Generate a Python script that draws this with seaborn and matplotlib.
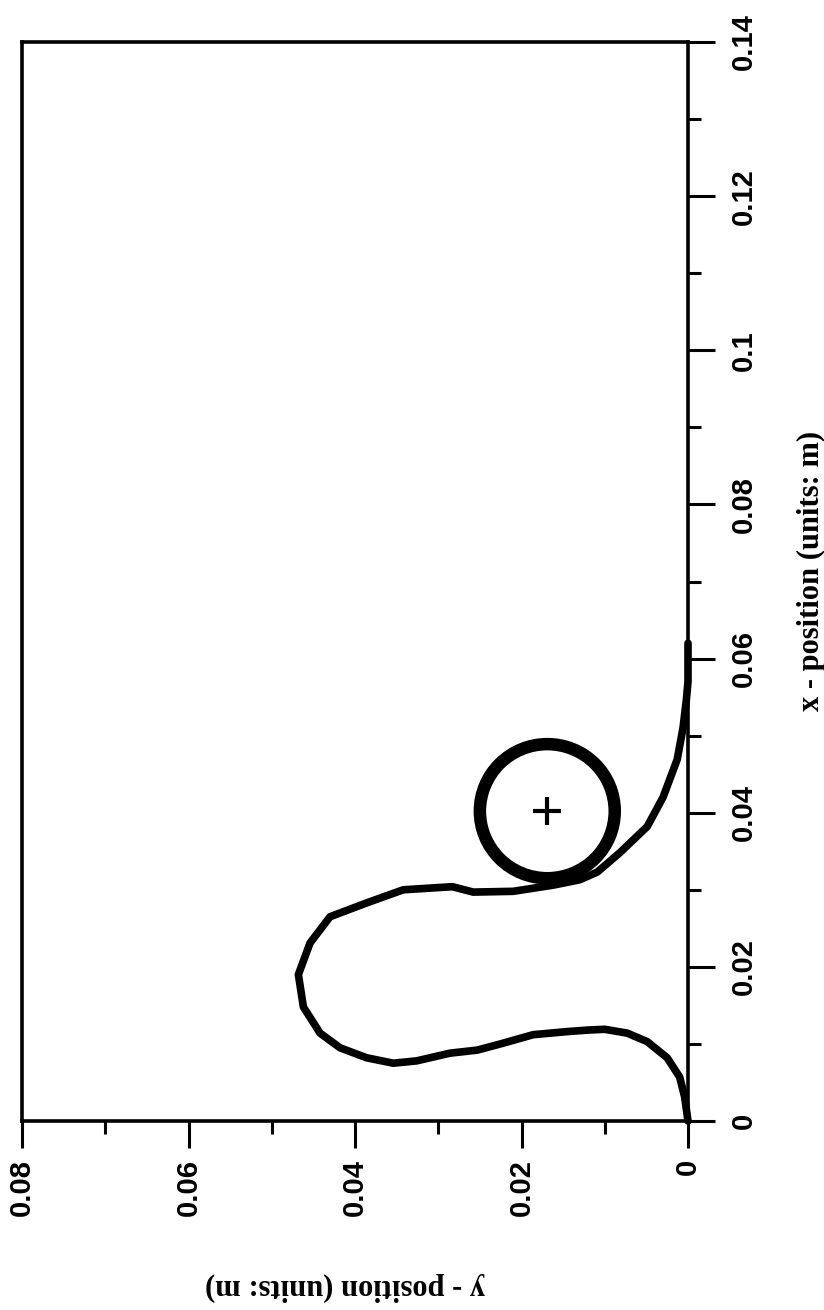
import numpy as np
import pandas as pd
import matplotlib
matplotlib.use("Agg")
import matplotlib.pyplot as plt
from matplotlib.patches import Ellipse
from matplotlib.ticker import FixedLocator, MultipleLocator
import seaborn as sns

# ---- data (physical orientation: x horizontal, y vertical) ----
x_position = [0.0000, 0.0031, 0.0057, 0.0082, 0.0103, 0.0114, 0.0119, 0.0118,
              0.0116, 0.0112, 0.0101, 0.0092, 0.0088, 0.0078, 0.0075, 0.0082,
              0.0095, 0.0114, 0.0148, 0.0190, 0.0231, 0.0265, 0.0283, 0.0300,
              0.0304, 0.0297, 0.0298, 0.0306, 0.0313, 0.0323, 0.0348, 0.0382,
              0.0420, 0.0469, 0.0510, 0.0546, 0.0570, 0.0620]
y_position = [0.0000, 0.0004, 0.0010, 0.0025, 0.0049, 0.0073, 0.0100, 0.0120,
              0.0145, 0.0186, 0.0222, 0.0253, 0.0286, 0.0326, 0.0354, 0.0386,
              0.0418, 0.0442, 0.0462, 0.0468, 0.0454, 0.0430, 0.0386, 0.0342,
              0.0283, 0.0258, 0.0210, 0.0162, 0.0130, 0.0109, 0.0082, 0.0049,
              0.0030, 0.0013, 0.0006, 0.0002, 0.0000, 0.0000]

ball_center_x = 0.0402
ball_center_y = 0.0169
ball_radius_x = 0.0087
ball_radius_y = 0.0081

x_ticks = [0, 0.02, 0.04, 0.06, 0.08, 0.1, 0.12, 0.14]
x_tick_labels = ["0", "0.02", "0.04", "0.06", "0.08", "0.1", "0.12", "0.14"]
y_ticks = [0, 0.02, 0.04, 0.06, 0.08]
y_tick_labels = ["0", "0.02", "0.04", "0.06", "0.08"]
x_label = "x - position (units: m)"
y_label = "y - position (units: m)"

sns.set_theme(style="white")
plt.rcParams['font.family'] = ['Liberation Sans', 'DejaVu Sans']
plt.rcParams['axes.edgecolor'] = 'black'
plt.rcParams['text.color'] = 'black'
plt.rcParams['axes.labelcolor'] = 'black'

fig = plt.figure(figsize=(8.24, 13.10), dpi=100)
# page is turned: horizontal axis carries y, vertical axis carries x
ax = fig.add_axes([22 / 824, 189 / 1310, 666 / 824, 1079 / 1310])

df = pd.DataFrame({"x": x_position, "y": y_position})
sns.lineplot(data=df, x="y", y="x", sort=False, estimator=None,
             color="black", linewidth=5.5, ax=ax, clip_on=False,
             solid_joinstyle="round", solid_capstyle="round")

ax.add_patch(Ellipse((ball_center_y, ball_center_x),
                     width=2 * ball_radius_y, height=2 * ball_radius_x,
                     fill=False, edgecolor="black", linewidth=9))
ax.plot([ball_center_y], [ball_center_x], marker="+", markersize=20,
        markeredgewidth=3, color="black", linestyle="none")

ax.set_xlim(0.08, 0)
ax.set_ylim(0, 0.14)

ax.xaxis.set_major_locator(FixedLocator(y_ticks))
ax.set_xticklabels(y_tick_labels, rotation=90, fontsize=21, fontweight="bold")
ax.xaxis.set_minor_locator(MultipleLocator(0.01))

ax.yaxis.tick_right()
ax.yaxis.set_major_locator(FixedLocator(x_ticks))
ax.set_yticklabels(x_tick_labels, rotation=90, va="center", fontsize=21,
                   fontweight="bold")
ax.yaxis.set_minor_locator(MultipleLocator(0.01))

ax.tick_params(which="major", direction="out", length=19.5, width=2.2,
               color="black", labelcolor="black")
ax.tick_params(which="minor", direction="out", length=9.5, width=2.2,
               color="black")
ax.tick_params(axis="x", which="both", bottom=True, top=False, pad=8)
ax.tick_params(axis="y", which="both", right=True, left=False, pad=11)

for s in ax.spines.values():
    s.set_visible(True)
    s.set_linewidth(2.6)
    s.set_color("black")

serif = ["Liberation Serif", "DejaVu Serif"]
ax.set_xlabel(y_label, fontsize=22, fontweight="bold", family=serif,
              color="black")
lab = ax.xaxis.label
lab.set_rotation(180)
lab.set_rotation_mode("anchor")
lab.set_ha("center")
lab.set_va("center")
ax.xaxis.set_label_coords(0.485, -0.1538)

ax.yaxis.set_label_position("right")
ax.set_ylabel(x_label, fontsize=22, fontweight="bold", family=serif,
              color="black")
lab = ax.yaxis.label
lab.set_rotation(90)
lab.set_rotation_mode("anchor")
lab.set_ha("center")
lab.set_va("center")
ax.yaxis.set_label_coords(1.186, 0.51)

fig.savefig("out.png", dpi=100)
